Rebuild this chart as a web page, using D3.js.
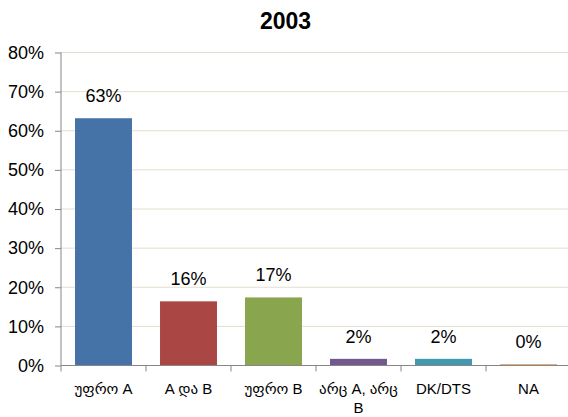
<!DOCTYPE html>
<html>
<head>
<meta charset="utf-8">
<script src="https://cdn.jsdelivr.net/npm/d3@7"></script>
<style>
	body { margin: 0; background: #fff; }
	text { font-family: Arial, "Liberation Sans", "DejaVu Sans", sans-serif; }
</style>
</head>
<body>
<div id="chart"></div>
<script>
const title = "2003";
const categories = ["უფრო A", "A და B", "უფრო B", "არც A, არც B", "DK/DTS", "NA"];
const values = [63.2, 16.4, 17.4, 1.7, 1.7, 0.3];
const valueLabels = ["63%", "16%", "17%", "2%", "2%", "0%"];
const colors = ["#4572a7", "#aa4643", "#89a54e", "#71588f", "#4198af", "#db843d"];
const yTicks = [0, 10, 20, 30, 40, 50, 60, 70, 80];

const w = 568;
const h = 417;
const plotLeft = 61;
const plotRight = 571;
const plotTop = 52.5;
const plotBottom = 365.5;

const svg = d3
	.select("#chart")
	.append("svg")
	.attr("width", w)
	.attr("height", h);

const xScale = d3
	.scaleBand()
	.domain(categories)
	.range([plotLeft, plotRight])
	.paddingInner(0.33)
	.paddingOuter(0.165);

const yScale = d3.scaleLinear().domain([0, 80]).range([plotBottom, plotTop]);

// gridlines
svg
	.append("g")
	.selectAll("line")
	.data(yTicks.slice(1))
	.enter()
	.append("line")
	.attr("x1", plotLeft)
	.attr("x2", w)
	.attr("y1", (d) => yScale(d))
	.attr("y2", (d) => yScale(d))
	.attr("stroke", "#e2dfcc")
	.attr("stroke-width", 1);

svg
	.append("text")
	.attr("x", 285.5)
	.attr("y", 28.5)
	.attr("text-anchor", "middle")
	.style("font-size", "23px")
	.style("font-weight", "bold")
	.text(title);

svg
	.selectAll(".bar")
	.data(values)
	.enter()
	.append("rect")
	.attr("class", "bar")
	.attr("x", (d, i) => xScale(categories[i]))
	.attr("y", (d) => yScale(d))
	.attr("width", xScale.bandwidth())
	.attr("height", (d) => plotBottom - yScale(d))
	.attr("fill", (d, i) => colors[i]);

svg
	.selectAll(".vlabel")
	.data(values)
	.enter()
	.append("text")
	.attr("class", "vlabel")
	.attr("x", (d, i) => xScale(categories[i]) + xScale.bandwidth() / 2)
	.attr("y", (d) => yScale(d) - 16)
	.attr("text-anchor", "middle")
	.style("font-size", "18px")
	.text((d, i) => valueLabels[i]);

const yAxis = d3
	.axisLeft(yScale)
	.tickValues(yTicks)
	.tickSize(6)
	.tickFormat((d) => d + "%");

const gy = svg
	.append("g")
	.attr("transform", "translate(" + plotLeft + ",0)")
	.call(yAxis);
gy.select(".domain").attr("stroke", "#868686").attr("d", "M0," + plotTop + "V" + plotBottom);
gy.selectAll(".tick line").attr("stroke", "#868686");
gy.selectAll(".tick text")
	.attr("x", -17)
	.style("font-size", "18px")
	.style("font-family", "Arial, 'Liberation Sans', sans-serif")
	.attr("fill", "#000");

// x axis with ticks at category boundaries
const step = xScale.step();
const boundaries = d3.range(categories.length + 1).map((i) => plotLeft + i * step);
const gx = svg.append("g");
gx.append("line")
	.attr("x1", plotLeft)
	.attr("x2", w)
	.attr("y1", plotBottom)
	.attr("y2", plotBottom)
	.attr("stroke", "#868686");
gx.selectAll(".xt")
	.data(boundaries)
	.enter()
	.append("line")
	.attr("class", "xt")
	.attr("x1", (d) => d)
	.attr("x2", (d) => d)
	.attr("y1", plotBottom)
	.attr("y2", plotBottom + 6)
	.attr("stroke", "#868686");

const catLines = [["უფრო A"], ["A და B"], ["უფრო B"], ["არც A, არც", "B"], ["DK/DTS"], ["NA"]];
const xl = svg
	.selectAll(".xlabel")
	.data(categories)
	.enter()
	.append("text")
	.attr("class", "xlabel")
	.attr("x", (d) => xScale(d) + xScale.bandwidth() / 2)
	.attr("y", 394)
	.attr("text-anchor", "middle")
	.style("font-size", "15px");
xl.each(function (d, i) {
	const t = d3.select(this);
	catLines[i].forEach((line, j) => {
		t.append("tspan")
			.attr("x", xScale(d) + xScale.bandwidth() / 2)
			.attr("dy", j === 0 ? 0 : 19)
			.text(line);
	});
});
</script>
</body>
</html>
